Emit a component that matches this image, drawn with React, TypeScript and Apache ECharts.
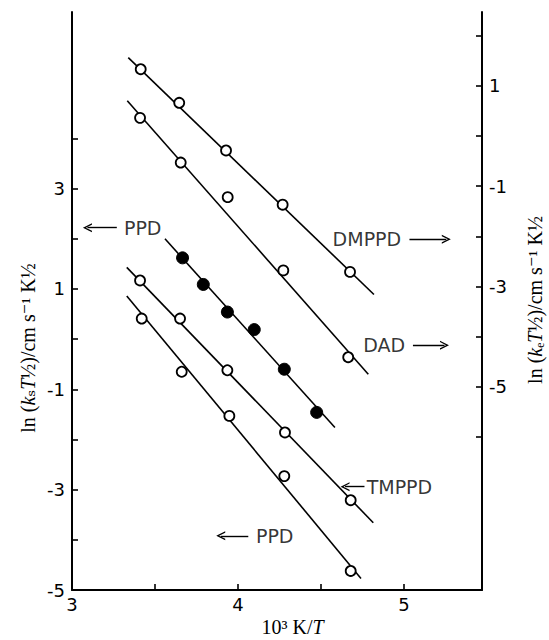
import React, { useEffect, useRef } from "react";
import * as echarts from "echarts";

// ---- axes ----
const xTickLabels = [3, 4, 5];
const xTicks = [3.5, 4, 4.5, 5];
const leftTickLabels = [3, 1, -1, -3, -5];
const leftTicks = [-4, -3, -2, -1, 0, 1, 2, 3, 4];
const rightTickLabels = [1, -1, -3, -5];
const rightTicks = [-6, -5, -4, -3, -2, -1, 0, 1, 2];

const X_MIN = 3;
const X_MAX = 5.47;
const LEFT_MIN = -5;
const LEFT_MAX = 6.52;
const RIGHT_SHIFT = 4.05; // right-axis value = left-axis value - shift

// ---- DMPPD (right axis, open circles) ----
const dmppdX = [3.414, 3.646, 3.928, 4.269, 4.675];
const dmppdY = [1.33, 0.66, -0.29, -1.37, -2.71];
const dmppdFitX = [3.339, 4.819];
const dmppdFitY = [1.56, -3.16];

// ---- DAD (right axis, open circles) ----
const dadX = [3.41, 3.655, 3.938, 4.273, 4.664];
const dadY = [0.36, -0.53, -1.22, -2.68, -4.41];
const dadFitX = [3.333, 4.785];
const dadFitY = [0.7, -4.75];

// ---- PPD (left axis, filled circles) ----
const ppdFilledX = [3.666, 3.791, 3.936, 4.098, 4.279, 4.474];
const ppdFilledY = [1.62, 1.09, 0.54, 0.19, -0.6, -1.46];
const ppdFilledFitX = [3.56, 4.584];
const ppdFilledFitY = [2.0, -1.76];

// ---- TMPPD (left axis, open circles) ----
const tmppdX = [3.41, 3.651, 3.936, 4.283, 4.679];
const tmppdY = [1.17, 0.41, -0.62, -1.86, -3.21];
const tmppdFitX = [3.33, 4.815];
const tmppdFitY = [1.43, -3.66];

// ---- PPD (left axis, open circles) ----
const ppdX = [3.42, 3.661, 3.948, 4.279, 4.679];
const ppdY = [0.41, -0.65, -1.53, -2.73, -4.62];
const ppdFitX = [3.33, 4.741];
const ppdFitY = [0.86, -4.77];

// ---- annotations (left-axis units) ----
const annotationText = ["PPD", "DMPPD", "DAD", "TMPPD", "PPD"];
const annotationX = [3.313, 4.57, 4.755, 4.775, 4.108];
const annotationY = [2.22, 1.99, -0.12, -2.94, -3.92];
const arrowTailX = [3.27, 5.033, 5.054, 4.762, 4.062];
const arrowTipX = [3.093, 5.255, 5.244, 4.645, 3.896];

const SANS = '"DejaVu Sans", sans-serif';
const SERIF = '"Liberation Serif", "DejaVu Serif", serif';
const CHEVRON = "path://M0,10 L5,0 L10,10 L8.4,10 L5,3.2 L1.6,10 Z";

const pts = (xs: number[], ys: number[]) => xs.map((x, i) => [x, ys[i]]);

function fitLine(xs: number[], ys: number[], axis: number) {
  return {
    type: "line",
    yAxisIndex: axis,
    data: pts(xs, ys),
    showSymbol: false,
    symbol: "none",
    lineStyle: { color: "#000", width: 1.6 },
    silent: true,
    z: 2,
  };
}

function dots(xs: number[], ys: number[], axis: number, filled: boolean) {
  return {
    type: "scatter",
    yAxisIndex: axis,
    data: pts(xs, ys),
    symbol: "circle",
    symbolSize: filled ? 12 : 10,
    itemStyle: filled
      ? { color: "#000", borderColor: "#000", borderWidth: 1, opacity: 1 }
      : { color: "#fff", borderColor: "#000", borderWidth: 1.8, opacity: 1 },
    silent: true,
    z: 3,
  };
}

export default function App() {
  const ref = useRef<HTMLDivElement>(null);
  useEffect(() => {
    if (!ref.current) return;
    const chart = echarts.init(ref.current, undefined, { renderer: "svg" });
    const axisLine = { show: true, onZero: false, lineStyle: { color: "#000", width: 2 } };
    const tickLabel = { color: "#000", fontFamily: SANS, fontSize: 18 };
    chart.setOption({
      animation: false,
      backgroundColor: "#fff",
      grid: { left: 72, right: 67, top: 12, bottom: 50 },
      xAxis: {
        type: "value",
        min: X_MIN,
        max: X_MAX,
        axisLine,
        splitLine: { show: false },
        axisTick: {
          show: true,
          inside: true,
          length: 6,
          customValues: xTicks,
          lineStyle: { color: "#000", width: 1.6 },
        },
        axisLabel: { ...tickLabel, margin: 5, customValues: xTickLabels },
      },
      yAxis: [
        {
          type: "value",
          position: "left",
          min: LEFT_MIN,
          max: LEFT_MAX,
          axisLine,
          splitLine: { show: false },
          axisTick: {
            show: true,
            inside: true,
            length: 6,
            customValues: leftTicks,
            lineStyle: { color: "#000", width: 1.6 },
          },
          axisLabel: { ...tickLabel, margin: 7, customValues: leftTickLabels },
        },
        {
          type: "value",
          position: "right",
          min: LEFT_MIN - RIGHT_SHIFT,
          max: LEFT_MAX - RIGHT_SHIFT,
          axisLine,
          splitLine: { show: false },
          axisTick: {
            show: true,
            inside: true,
            length: 6,
            customValues: rightTicks,
            lineStyle: { color: "#000", width: 1.6 },
          },
          axisLabel: { ...tickLabel, margin: 7, customValues: rightTickLabels },
        },
      ],
      graphic: [
        {
          type: "text",
          x: 27.5,
          y: 348,
          rotation: Math.PI / 2,
          style: {
            text: "ln ({i|k}ₛ{i|T}½)/cm s⁻¹ K½",
            fontFamily: SERIF,
            fontSize: 20,
            fill: "#000",
            align: "center",
            verticalAlign: "middle",
            rich: { i: { fontStyle: "italic", fontFamily: SERIF, fontSize: 20, fill: "#000" } },
          },
        },
        {
          type: "text",
          x: 535,
          y: 300,
          rotation: Math.PI / 2,
          style: {
            text: "ln ({i|k}ₑ{i|T}½)/cm s⁻¹ K½",
            fontFamily: SERIF,
            fontSize: 20,
            fill: "#000",
            align: "center",
            verticalAlign: "middle",
            rich: { i: { fontStyle: "italic", fontFamily: SERIF, fontSize: 20, fill: "#000" } },
          },
        },
        {
          type: "text",
          x: 292.5,
          y: 627,
          style: {
            text: "10³ K/{i|T}",
            fontFamily: SERIF,
            fontSize: 20,
            fill: "#000",
            align: "center",
            verticalAlign: "middle",
            rich: { i: { fontStyle: "italic", fontFamily: SERIF, fontSize: 20, fill: "#000" } },
          },
        },
      ],
      series: [
        fitLine(dmppdFitX, dmppdFitY, 1),
        dots(dmppdX, dmppdY, 1, false),
        fitLine(dadFitX, dadFitY, 1),
        dots(dadX, dadY, 1, false),
        fitLine(ppdFilledFitX, ppdFilledFitY, 0),
        dots(ppdFilledX, ppdFilledY, 0, true),
        fitLine(tmppdFitX, tmppdFitY, 0),
        dots(tmppdX, tmppdY, 0, false),
        fitLine(ppdFitX, ppdFitY, 0),
        dots(ppdX, ppdY, 0, false),
        {
          type: "scatter",
          yAxisIndex: 0,
          symbolSize: 0,
          silent: true,
          data: annotationText.map((t, i) => ({ value: [annotationX[i], annotationY[i]], name: t })),
          label: {
            show: true,
            position: "right",
            distance: 0,
            formatter: (p: any) => p.name,
            color: "#000",
            fontFamily: SANS,
            fontSize: 19,
          },
          markLine: {
            silent: true,
            animation: false,
            symbol: ["none", CHEVRON],
            symbolSize: 9,
            label: { show: false },
            lineStyle: { color: "#000", width: 1.4, type: "solid" },
            data: annotationText.map((_, i) => [
              { coord: [arrowTailX[i], annotationY[i]] },
              { coord: [arrowTipX[i], annotationY[i]] },
            ]),
          },
        },
      ],
    });
    return () => chart.dispose();
  }, []);
  return (
    <div
      ref={ref}
      style={{ position: "fixed", left: 0, top: 0, width: 549, height: 640, background: "#fff" }}
    />
  );
}
